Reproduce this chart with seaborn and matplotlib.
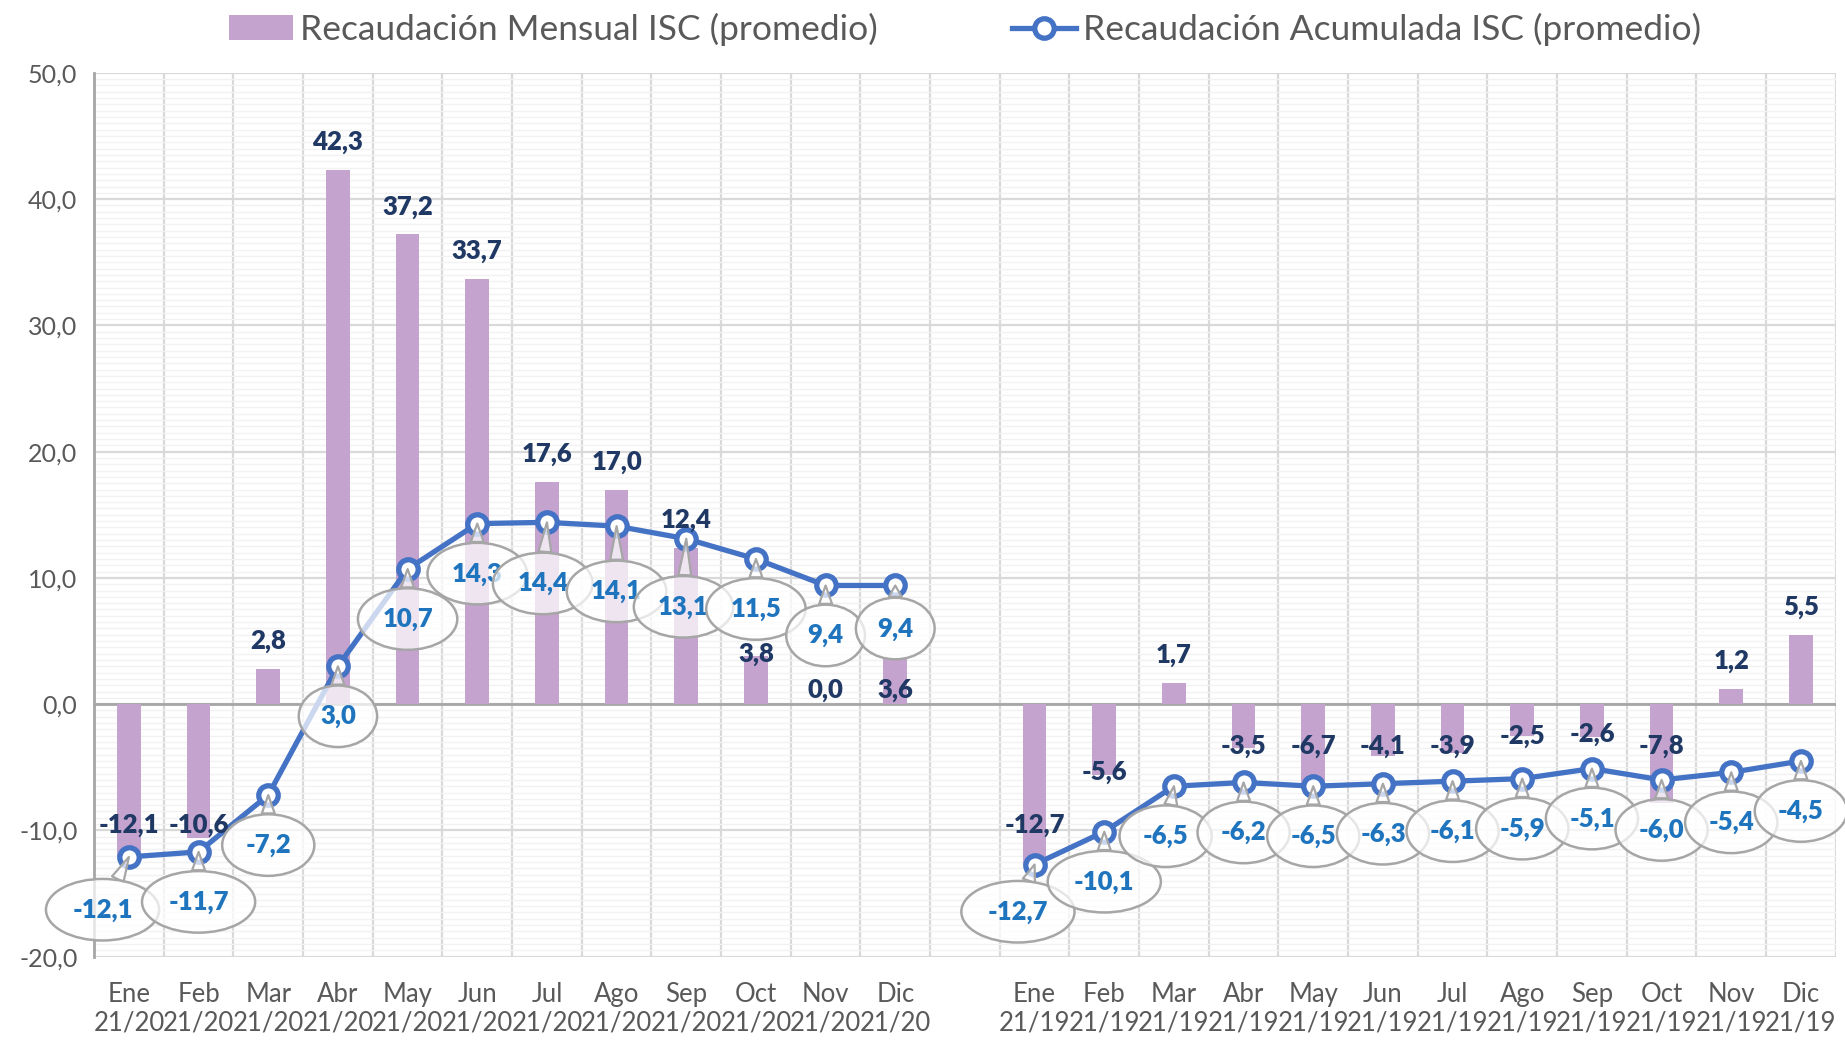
import numpy as np
import pandas as pd
import matplotlib
matplotlib.use("Agg")
import matplotlib.pyplot as plt
import seaborn as sns
from matplotlib.patches import Patch
from matplotlib.lines import Line2D
from matplotlib.ticker import MultipleLocator, FuncFormatter

# Data
meses = ["Ene", "Feb", "Mar", "Abr", "May", "Jun", "Jul", "Ago", "Sep", "Oct", "Nov", "Dic"]
periodos = ["21/20", "21/19"]

mensual_2120 = [-12.1, -10.6, 2.8, 42.3, 37.2, 33.7, 17.6, 17.0, 12.4, 3.8, 0.0, 3.6]
mensual_2119 = [-12.7, -5.6, 1.7, -3.5, -6.7, -4.1, -3.9, -2.5, -2.6, -7.8, 1.2, 5.5]

acumulada_2120 = [-12.1, -11.7, -7.2, 3.0, 10.7, 14.3, 14.4, 14.1, 13.1, 11.5, 9.4, 9.4]
acumulada_2119 = [-12.7, -10.1, -6.5, -6.2, -6.5, -6.3, -6.1, -5.9, -5.1, -6.0, -5.4, -4.5]

# Colours
BAR_COLOR = "#C5A3CF"
LINE_COLOR = "#4472C4"
BAR_TXT = "#1F3864"
LINE_TXT = "#1F74BE"
GREY_TXT = "#595959"

# Categories: 12 months, one empty slot, 12 months
cat_2120 = [f"{m}\n21/20" for m in meses]
cat_2119 = [f"{m}\n21/19" for m in meses]
order = cat_2120 + [" "] + cat_2119

df_bar = pd.DataFrame({
    "cat": cat_2120 + cat_2119,
    "mensual": mensual_2120 + mensual_2119,
})
df_line = pd.DataFrame({
    "cat": cat_2120 + cat_2119,
    "acumulada": acumulada_2120 + acumulada_2119,
    "periodo": [periodos[0]] * 12 + [periodos[1]] * 12,
})
df_bar["pos"] = [order.index(c) for c in df_bar["cat"]]
df_line["pos"] = [order.index(c) for c in df_line["cat"]]

plt.rcParams["font.family"] = ["Lato", "DejaVu Sans"]

fig = plt.figure(figsize=(18.45, 10.41), dpi=100)
ax = fig.add_axes([0.051, 0.081, 0.944, 0.849])

# Bars
sns.barplot(data=df_bar, x="cat", y="mensual", order=order, color=BAR_COLOR,
            saturation=1, width=0.34, ax=ax, zorder=2)

# Line, one per period so the gap stays open
for p in periodos:
    sub = df_line[df_line["periodo"] == p]
    sns.lineplot(data=sub, x="pos", y="acumulada", color=LINE_COLOR, linewidth=3.8,
                 marker="o", markersize=14, markerfacecolor="white",
                 markeredgecolor=LINE_COLOR, markeredgewidth=3.8, ax=ax, zorder=4,
                 legend=False)

# Bar labels (hand placed ones in reference)
bar_label_y = {0: -9.6, 1: -9.6, 9: 4.0, 10: 1.1, 11: 1.1, 13: -9.6,
               17: -3.3, 18: -3.3, 19: -3.3, 20: -2.5, 22: -3.3}
for _, r in df_bar.iterrows():
    v = r["mensual"]
    y = bar_label_y.get(r["pos"], v + 2.2 if v >= 0 else v + 0.2)
    ax.text(r["pos"], y, f"{v:.1f}".replace(".", ","), ha="center", va="center",
            fontsize=18.5, fontweight="heavy", color=BAR_TXT, zorder=6)

# Callout bubbles for the cumulative series
bubble_off = {0: (-19, -38), 6: (-3, -44), 7: (0, -47), 8: (-2, -49), 11: (0, -31),
              13: (-12, -34), 15: (-6, -36)}
for k, (_, r) in enumerate(df_line.iterrows()):
    v = r["acumulada"]
    dx, dy = bubble_off.get(r["pos"], (0, -36))
    ax.annotate(f"{v:.1f}".replace(".", ","), xy=(r["pos"], v), xytext=(dx, dy),
                textcoords="offset points", ha="center", va="center",
                fontsize=18.5, fontweight="heavy", color=LINE_TXT, zorder=7 + k,
                bbox=dict(boxstyle="ellipse,pad=0.38", fc=(1, 1, 1, 0.72),
                          ec="#A6A6A6", lw=1.8),
                arrowprops=dict(arrowstyle="wedge,tail_width=0.5,shrink_factor=0.5",
                                fc=(1, 1, 1, 0.72), ec="#A6A6A6", lw=1.6,
                                shrinkA=0, shrinkB=0))

# Axes styling
ax.set_xlim(-0.5, len(order) - 0.5)
ax.set_ylim(-20, 50)
ax.yaxis.set_major_locator(MultipleLocator(10))
ax.yaxis.set_minor_locator(MultipleLocator(0.5))
ax.yaxis.set_major_formatter(FuncFormatter(lambda v, _: f"{v:.1f}".replace(".", ",")))
ax.set_xticks(range(len(order)))
ax.set_xticklabels(order)
ax.set_xticks(np.arange(-0.5, len(order), 1), minor=True)
ax.tick_params(axis="x", which="both", length=0, labelsize=18.5, colors=GREY_TXT, pad=18)
ax.tick_params(axis="y", which="both", length=0, labelsize=18, colors=GREY_TXT, pad=12)
ax.grid(axis="y", which="major", color="#D9D9D9", lw=1.6, zorder=0)
ax.grid(axis="y", which="minor", color="#F2F2F2", lw=1.0, zorder=0)
ax.grid(axis="x", which="minor", color="#D9D9D9", lw=1.6, zorder=0)
ax.grid(axis="x", which="major", visible=False)
ax.axhline(0, color="#A6A6A6", lw=2, zorder=1)
ax.set_axisbelow(True)
ax.set_xlabel("")
ax.set_ylabel("")
for s in ["top", "right", "bottom"]:
    ax.spines[s].set_visible(False)
ax.spines["left"].set_color("#A6A6A6")
ax.spines["left"].set_linewidth(2)

# Legend
handles = [
    Patch(facecolor=BAR_COLOR, edgecolor="none"),
    Line2D([0], [0], color=LINE_COLOR, lw=3.8, marker="o", markersize=14,
           markerfacecolor="white", markeredgecolor=LINE_COLOR, markeredgewidth=3.8),
]
labels = ["Recaudación Mensual ISC (promedio)", "Recaudación Acumulada ISC (promedio)"]
leg = fig.legend(handles, labels, loc="upper center", bbox_to_anchor=(0.523, 1.018),
                 ncol=2, frameon=False, fontsize=25.5, labelcolor=GREY_TXT,
                 handlelength=1.8, handletextpad=0.2, columnspacing=3.8)

fig.savefig("out.png", dpi=100)
